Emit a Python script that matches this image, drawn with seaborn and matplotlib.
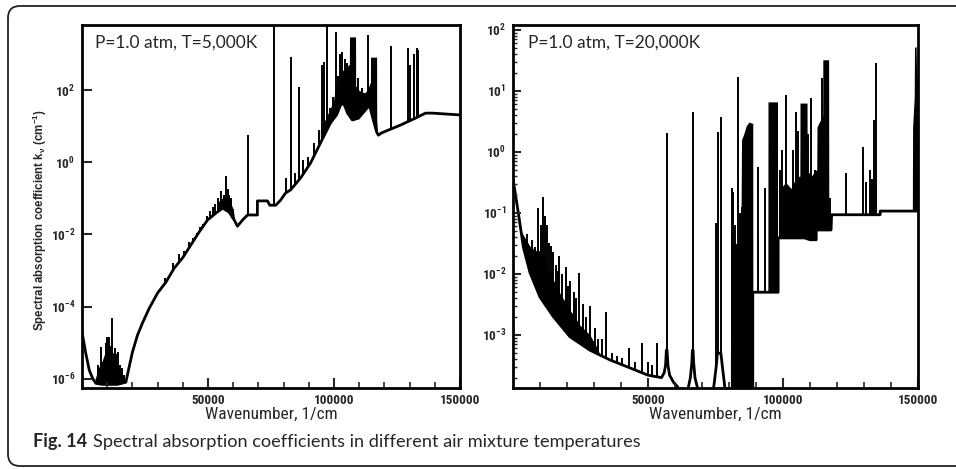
import numpy as np
import pandas as pd
import matplotlib
matplotlib.use("Agg")
import matplotlib.pyplot as plt
import seaborn as sns
from matplotlib import font_manager
from matplotlib.patches import FancyBboxPatch
from matplotlib.ticker import FixedLocator, LogLocator, NullFormatter, NullLocator

# ---------------------------------------------------------------------------
# Spectral absorption coefficient of air, P = 1.0 atm
# values are log10(k_nu / cm^-1) against wavenumber (1/cm)
# ---------------------------------------------------------------------------

# T = 5,000 K : continuum (lower envelope of the spectrum)
t5_base_wn = [0, 1500, 2900, 4200, 5500, 8000, 11000, 14000, 17400, 18700, 20000,
              22000, 24000, 26700, 30000, 33300, 36600, 39900, 43200, 46500, 49800,
              53100, 55800, 58400, 60400, 61700, 63700, 65700, 69600, 69600, 73600,
              74500, 76900, 78800, 80800, 82700, 86700, 90700, 94600, 96600, 98600,
              101000, 102600, 103800, 105400, 107300, 109700, 112500, 114100, 115300,
              116900, 117600, 118800, 126400, 132300, 136300, 139100, 150000]
t5_base_log = [-4.70, -5.29, -5.76, -5.98, -6.12, -6.15, -6.15, -6.15, -6.09, -5.67, -5.26,
               -4.79, -4.45, -4.04, -3.62, -3.32, -2.93, -2.65, -2.29, -1.93, -1.60,
               -1.41, -1.27, -1.38, -1.60, -1.77, -1.60, -1.46, -1.46, -1.07, -1.07,
               -1.19, -1.19, -1.05, -0.85, -0.77, -0.44, -0.02, 0.53, 0.81, 1.09,
               1.31, 1.58, 1.64, 1.36, 1.17, 1.22, 1.45, 1.58, 1.25,
               0.84, 0.75, 0.81, 1.03, 1.22, 1.36, 1.36, 1.31]

# T = 5,000 K : individual lines (position, peak)
t5_line_wn = [6500, 7700, 8600, 9400, 10100, 10800, 11500, 12100, 13000, 13800, 14100,
              15000, 15700, 16500,
              33000, 36000, 38600, 40500, 42300, 44000, 45500, 47000, 48200, 49500,
              50800, 51800, 52700, 53800, 55100, 56200, 57000, 57800, 58500, 59300, 60000,
              66070, 76100, 80800, 83000, 84500, 86300, 87500, 89500, 92000, 94000,
              95430, 96200, 97400, 98500, 99500, 100600, 101400, 102200, 103000, 104400,
              105350, 109700, 111000, 113500, 122800, 129200, 130100, 131900, 132900, 133500]
t5_line_log = [-5.6, -5.12, -5.5, -5.0, -4.85, -4.84, -5.1, -4.32, -5.15, -5.3, -5.25,
               -5.6, -5.7, -5.9,
               -3.2, -2.8, -2.55, -2.45, -2.2, -2.1, -1.95, -1.8, -1.7, -1.5,
               -1.35, -1.25, -1.15, -1.0, -0.8, -0.9, -0.38, -0.75, -0.9, -1.0, -1.3,
               0.75, 4.0, -0.44, 2.91, -0.3, 2.08, 0.06, 0.14, 0.53, 0.9,
               2.69, 2.78, 4.0, 1.5, 1.8, 3.6, 2.4, 3.0, 3.05, 2.85,
               2.75, 2.33, 2.05, 3.52, 3.22, 3.17, 2.7, 3.0, 3.15, 3.1]

# T = 5,000 K : unresolved line groups (upper envelope)
t5_band1_wn = [5200, 6500, 8000, 9500, 11000, 12500, 14000, 15500, 17000]
t5_band1_log = [-6.0, -5.7, -5.5, -5.2, -5.1, -5.3, -5.5, -5.8, -6.05]
t5_band2_wn = [54000, 55500, 57000, 58500, 60000, 60600]
t5_band2_log = [-1.1, -1.0, -0.95, -1.05, -1.3, -1.6]
t5_band3_wn = [94600, 98600, 99800, 100600, 101800, 102200, 102600, 104600, 105700, 106100,
               106150, 108550, 108600, 108950, 109700, 112100, 113300, 114300, 114450,
               114500, 116900, 116950, 117300]
t5_band3_log = [0.9, 1.5, 1.7, 2.08, 2.1, 2.4, 2.55, 2.55, 2.7, 2.7,
                3.47, 3.47, 2.1, 2.1, 2.0, 1.92, 2.0, 2.2, 2.2,
                2.91, 2.91, 1.2, 0.8]

# T = 20,000 K : continuum
t20_base_wn = [0, 740, 1970, 3830, 6300, 10000, 14930, 21100, 28500, 35900, 43300, 50000,
               55000, 56000, 56500, 56800, 57050, 57400, 58000, 59500, 61000, 62000, 64500,
               65700, 66250, 66450, 66700, 66900, 67400, 68500, 69500, 73500, 74500, 75300,
               75700, 77000, 77500, 78300, 79000, 80600, 88800, 88800, 98200, 98200, 108000,
               110000, 112300, 112300, 117800, 118000, 136000, 136000, 150000]
t20_base_log = [-0.45, -0.65, -1.0, -1.56, -1.98, -2.38, -2.7, -3.03, -3.25, -3.41, -3.54, -3.66,
                -3.70, -3.62, -3.5, -3.25, -3.25, -3.5, -3.66, -3.78, -3.85, -4.0, -3.95,
                -3.7, -3.45, -3.25, -3.25, -3.45, -3.7, -3.9, -4.1, -4.1, -3.8, -3.5,
                -3.3, -3.3, -3.5, -3.8, -4.1, -4.1, -4.1, -2.30, -2.30, -1.41, -1.41,
                -1.44, -1.44, -1.28, -1.28, -1.03, -1.03, -0.97, -0.97]

# T = 20,000 K : individual lines
t20_line_wn = [5200, 6900, 8150, 9370, 10260, 10930, 11850, 12480, 13330, 14200, 14930,
               15930, 16500, 17220, 18150, 19450, 20300, 21220, 22600, 23500, 24560, 25930,
               27000, 28520, 30370, 31600, 32780, 34260, 36670,
               38500, 40370, 42970, 45190, 47600, 50110, 51500, 53230,
               56930, 66560, 75190, 75930, 76860, 80930, 81490, 82300, 83150, 84000, 84710,
               90860, 93330, 99010, 99520, 100000, 101120, 102400, 103000, 103600, 104820,
               105560, 109100, 110400, 111100, 111830, 114300, 117250,
               123400, 129800, 130600, 132200, 133000, 133700, 134300]
t20_line_log = [-1.35, -1.45, -1.56, -0.92, -1.2, -0.74, -1.05, -1.2, -1.5, -1.55, -1.64,
                -1.85, -1.95, -1.70, -2.0, -1.89, -2.2, -2.12, -2.3, -2.4, -1.98, -2.5,
                -2.7, -2.53, -2.89, -3.06, -3.06, -2.63, -3.3,
                -3.35, -3.38, -3.21, -3.45, -3.13, -3.45, -3.5, -3.14,
                0.31, 0.66, -1.16, 0.33, 0.57, -0.59, -0.65, -1.2, 1.23, -1.0, -0.9,
                -0.25, -0.59, -0.3, 0.03, -0.6, 0.93, -0.57, -0.9, 0.03, 0.66,
                0.35, 0.3, 0.88, -0.9, -0.3, 1.21, -0.75,
                -0.35, 0.08, -0.5, -0.30, -0.45, 0.52, 1.46]

# T = 20,000 K : unresolved line groups
t20_band1_wn = [3000, 6300, 8700, 11100, 13600, 17300, 21100, 24800, 28500, 31000, 32000]
t20_band1_log = [-1.3, -1.55, -1.62, -1.62, -1.98, -2.31, -2.59, -2.84, -3.0, -3.2, -3.3]
t20_band2_wn = [80500, 80600, 82000, 84400, 84640, 85500, 86400, 87400, 88500, 88800, 88850]
t20_band2_log = [-4.5, -1.5, -1.5, -1.5, 0.2, 0.3, 0.43, 0.49, 0.47, 0.47, -4.5]
t20_band3_wn = [94400, 94440, 97960, 98000]
t20_band3_log = [-2.3, 0.82, 0.82, -2.3]
t20_band4_wn = [98300, 99000, 101000, 103000, 105000, 106250, 106300, 108900, 108950, 110500,
                112000, 112500, 112600, 113600, 114700, 114750, 116900, 116950, 117300]
t20_band4_log = [-1.41, -0.6, -0.5, -0.6, -0.4, -0.4, 0.80, 0.80, -0.3, -0.4,
                 -0.3, -0.3, 0.41, 0.5, 0.6, 1.51, 1.51, -0.8, -1.28]
t20_band5_wn = [147900, 148000, 148600, 148700, 149300, 149500, 150000]
t20_band5_log = [-0.97, 0.4, 0.9, 1.72, 1.72, 1.25, 1.25]

# axis decorations
x_major = [50000, 100000, 150000]
x_major_labels = ["50000", "100000", "150000"]
x_minor = [10000, 20000, 30000, 40000, 60000, 70000, 80000, 90000,
           110000, 120000, 130000, 140000]
t5_y_ticks = [-6, -4, -2, 0, 2]
t20_y_ticks = [-3, -2, -1, 0, 1, 2]
t5_title = "P=1.0 atm, T=5,000K"
t20_title = "P=1.0 atm, T=20,000K"
x_title = "Wavenumber, 1/cm"
y_title = "Spectral absorption coefficient k$_{\\nu}$ (cm$^{-1}$)"
caption_head = "Fig. 14"
caption_body = "Spectral absorption coefficients in different air mixture temperatures"


def pick_font(*names):
    have = {f.name for f in font_manager.fontManager.ttflist}
    for n in names:
        if n in have:
            return n
    return "DejaVu Sans"


sns.set_style("white")
NARROW = pick_font("Liberation Sans Narrow", "Roboto Condensed", "Liberation Sans")
ARIAL = pick_font("Liberation Sans", "DejaVu Sans")
LABEL = pick_font("Lato", "Open Sans", "Noto Sans")
CAPTION = pick_font("Lato", "Open Sans", "Noto Sans")
plt.rcParams["font.family"] = [NARROW, "DejaVu Sans"]
plt.rcParams["mathtext.default"] = "regular"

fig = plt.figure(figsize=(9.56, 4.69), dpi=100)
ax5 = fig.add_axes([82 / 956, 1 - 388 / 469, 378 / 956, 363 / 469])
ax20 = fig.add_axes([513 / 956, 1 - 388 / 469, 405 / 956, 363 / 469])


def draw_panel(ax, base_wn, base_log, line_wn, line_log, bands, ylog):
    ax.set_yscale("log")
    floor = 10.0 ** (ylog[0] - 1.0)
    for bwn, blog in bands:
        ax.fill_between(bwn, floor, 10.0 ** np.asarray(blog), color="black", lw=0, zorder=1.0)
    ax.vlines(line_wn, floor, 10.0 ** np.asarray(line_log), color="black", lw=1.4, zorder=1.0)
    # blank out everything below the continuum so lines rise from it
    ax.fill_between(base_wn, floor, 10.0 ** np.asarray(base_log), color="white", lw=0, zorder=1.2)
    df = pd.DataFrame({"wn": base_wn, "k": 10.0 ** np.asarray(base_log)})
    sns.lineplot(data=df, x="wn", y="k", sort=False, estimator=None, color="black",
                 lw=2.0, ax=ax, zorder=2)
    ax.set_xlim(0, 150000)
    ax.set_ylim(10.0 ** ylog[0], 10.0 ** ylog[1])
    for s in ax.spines.values():
        s.set_linewidth(2.0)
        s.set_color("black")
        s.set_zorder(4)
    ax.xaxis.set_zorder(3)
    ax.yaxis.set_zorder(3)
    ax.xaxis.set_major_locator(FixedLocator(x_major))
    ax.set_xticklabels(x_major_labels)
    ax.xaxis.set_minor_locator(FixedLocator(x_minor))
    ax.tick_params(axis="x", which="major", direction="in", length=7, width=1.5,
                   pad=4, labelsize=9.5, top=False, bottom=True)
    ax.tick_params(axis="x", which="minor", direction="in", length=4.5, width=1.2,
                   top=False, bottom=True)
    for t in ax.get_xticklabels():
        t.set_fontweight("bold")
    ax.set_xlabel(x_title, fontsize=12.5, family=[NARROW, "DejaVu Sans"])
    ax.xaxis.set_label_coords(0.5, -0.072)
    ax.xaxis.label.set_va("center")


draw_panel(ax5, t5_base_wn, t5_base_log, t5_line_wn, t5_line_log,
           [(t5_band1_wn, t5_band1_log), (t5_band2_wn, t5_band2_log),
            (t5_band3_wn, t5_band3_log)], (-6.25, 3.8))
draw_panel(ax20, t20_base_wn, t20_base_log, t20_line_wn, t20_line_log,
           [(t20_band1_wn, t20_band1_log), (t20_band2_wn, t20_band2_log),
            (t20_band3_wn, t20_band3_log), (t20_band4_wn, t20_band4_log),
            (t20_band5_wn, t20_band5_log)], (-3.87, 2.08))

# y axes
ax5.yaxis.set_major_locator(FixedLocator([10.0 ** e for e in t5_y_ticks]))
ax5.set_yticklabels(["10$^{%d}$" % e for e in t5_y_ticks])
ax5.yaxis.set_minor_locator(NullLocator())
ax5.tick_params(axis="y", which="major", direction="in", length=7, width=1.5, pad=5,
                labelsize=9.5, left=True, right=False)
ax20.yaxis.set_major_locator(FixedLocator([10.0 ** e for e in t20_y_ticks]))
ax20.set_yticklabels(["10$^{%d}$" % e for e in t20_y_ticks])
ax20.yaxis.set_minor_locator(LogLocator(base=10, subs=np.arange(2, 10)))
ax20.yaxis.set_minor_formatter(NullFormatter())
ax20.tick_params(axis="y", which="major", direction="in", length=6, width=1.5, pad=5,
                 labelsize=9.5, left=True, right=False)
ax20.tick_params(axis="y", which="minor", direction="in", length=3, width=1.0,
                 left=True, right=False)
for a in (ax5, ax20):
    for t in a.get_yticklabels():
        t.set_fontweight("bold")
ax20.set_ylabel("")

ax5.set_ylabel(y_title, fontsize=8.3, fontweight="bold", family=[ARIAL, "DejaVu Sans"])
ax5.yaxis.set_label_coords(-0.111, 0.463)
ax5.yaxis.label.set_va("center")

# condition labels
ax5.text(0.034, 0.951, t5_title, transform=ax5.transAxes, ha="left", va="center",
         fontsize=12.5, family=[LABEL, "DejaVu Sans"], zorder=5)
ax20.text(0.037, 0.951, t20_title, transform=ax20.transAxes, ha="left", va="center",
          fontsize=12.5, family=[LABEL, "DejaVu Sans"], zorder=5)

# rounded frame of the figure panel
frame = FancyBboxPatch((0.08, 0.03), 9.7, 4.60,
                       boxstyle="round,pad=0,rounding_size=0.12",
                       transform=fig.dpi_scale_trans, fill=False, ec="#222222",
                       lw=1.3, clip_on=False)
fig.patches.append(frame)

# caption
head = fig.text(33 / 956, 1 - 441 / 469, caption_head, ha="left", va="center",
                fontsize=13.1, fontweight="bold", family=[CAPTION, "DejaVu Sans"])
ax5.annotate(caption_body, xy=(1, 0), xycoords=head, xytext=(4, 0),
             textcoords="offset points", ha="left", va="bottom", fontsize=13.1,
             family=[CAPTION, "DejaVu Sans"], annotation_clip=False)

fig.savefig("out.png", dpi=100)
